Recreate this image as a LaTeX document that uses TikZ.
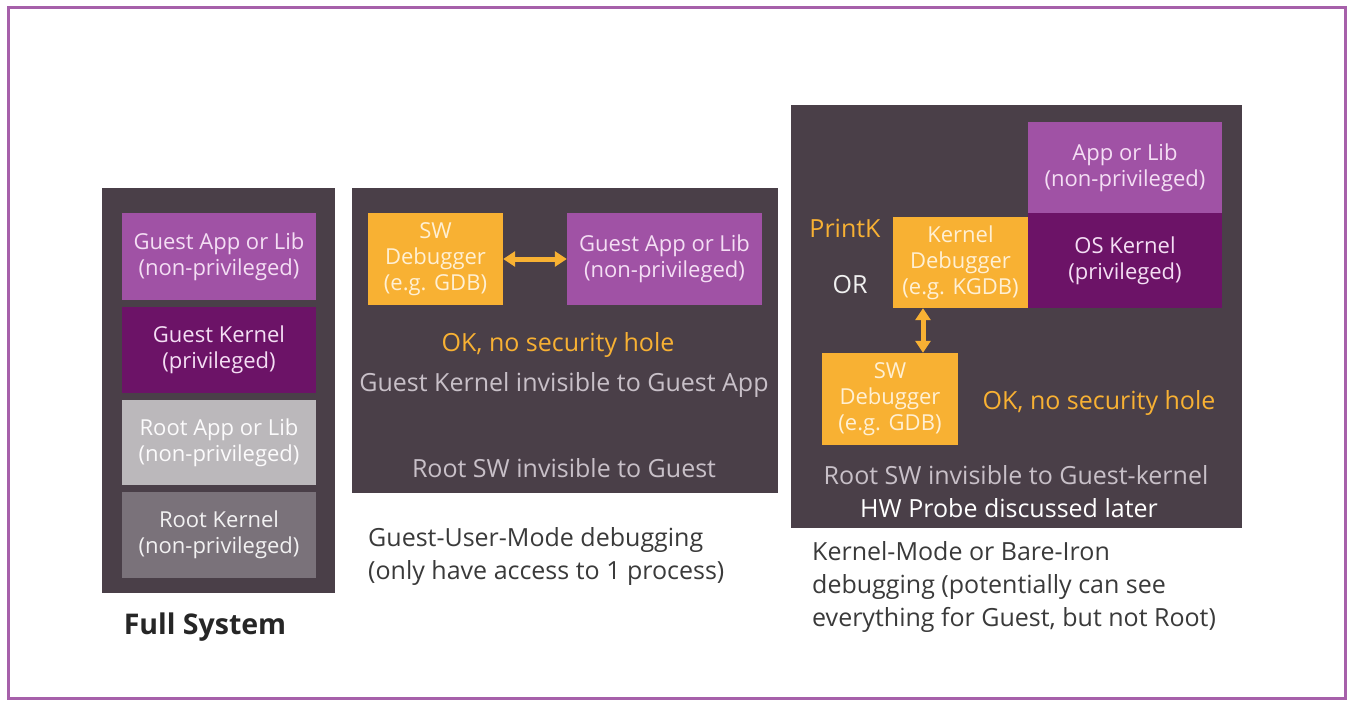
\documentclass[tikz,border=0pt]{standalone}
\usepackage{fontspec}
\setmainfont{Open Sans}
\usetikzlibrary{arrows.meta}
\definecolor{panel}{HTML}{4A3F48}
\definecolor{lilac}{HTML}{A052A5}
\definecolor{plum}{HTML}{6C1367}
\definecolor{lightgrey}{HTML}{BBB8BB}
\definecolor{midgrey}{HTML}{7A727A}
\definecolor{amber}{HTML}{F8B133}
\definecolor{pinkwhite}{HTML}{F4DEF4}
\definecolor{creamtext}{HTML}{FFF0D4}
\definecolor{softgrey}{HTML}{C8C0C8}
\definecolor{captiontext}{HTML}{3A3A3A}
\definecolor{framepurple}{HTML}{A660AA}
\begin{document}
\begin{tikzpicture}[x=1pt,y=-1pt,
  block/.style 2 args={rectangle, inner sep=0pt, minimum width=#1pt, minimum height=#2pt},
  panelbox/.style={fill=panel},
  boxtxt/.style={font=\fontsize{22}{26}\selectfont, align=center},
  bigtxt/.style={font=\fontsize{25}{30}\selectfont, align=center},
  captxt/.style={font=\fontsize{25}{33}\selectfont, align=left, text=captiontext, anchor=north west, inner sep=0pt},
  dbl/.style={draw=amber, line width=5pt,
    {Triangle[length=12pt,width=15pt]}-{Triangle[length=12pt,width=15pt]}}
]
% canvas and outer frame
\fill[white] (0,0) rectangle (1349,702);
\draw[framepurple, line width=3.5pt] (8.5,7.5) rectangle (1345.5,698.5);

% ---- Full system stack ----
\node[block={233}{405}, panelbox] (fs) at (218.5,390.5) {};
\node[block={194}{87}, fill=lilac, boxtxt, text=pinkwhite] (fsA) at (219,256.5) {Guest App or Lib\\(non-privileged)};
\node[block={194}{86}, fill=plum, boxtxt, text=pinkwhite] (fsB) at (219,350) {Guest Kernel\\(privileged)};
\node[block={194}{85}, fill=lightgrey, boxtxt, text=white!95!lightgrey] (fsC) at (219,442.5) {Root App or Lib\\(non-privileged)};
\node[block={194}{86}, fill=midgrey, boxtxt, text=white!90!midgrey] (fsD) at (219,535) {Root Kernel\\(non-privileged)};
\node[font=\fontsize{28.5}{33}\selectfont\bfseries, text=black!85] (fstitle) at (205,627) {Full System};

% ---- Guest-user-mode debugging ----
\node[block={426}{305}, panelbox] (mid) at (565,340.5) {};
\node[block={135}{92}, fill=amber, boxtxt, text=creamtext] (swA) at (435.5,259) {SW\\Debugger\\(e.g. GDB)};
\node[block={195}{92}, fill=lilac, boxtxt, text=pinkwhite] (gapp) at (664.5,259) {Guest App or Lib\\(non-privileged)};
\draw[dbl] (swA) -- (gapp);
\node[bigtxt, text=amber] (okA) at (558,345) {OK, no security hole};
\node[bigtxt, text=softgrey] (invA) at (564,385) {Guest Kernel invisible to Guest App};
\node[bigtxt, text=softgrey] (rootA) at (564,468) {Root SW invisible to Guest};
\node[captxt] (capA) at (368,527) {Guest-User-Mode debugging\\(only have access to 1 process)};

% ---- Kernel-mode / bare-iron debugging ----
\node[block={451}{423}, panelbox] (rt) at (1016.5,316.5) {};
\node[block={194}{91}, fill=lilac, boxtxt, text=pinkwhite] (applib) at (1125,167.5) {App or Lib\\(non-privileged)};
\node[block={194}{95}, fill=plum, boxtxt, text=pinkwhite] (oskern) at (1125,260.5) {OS Kernel\\(privileged)};
\node[block={135}{91}, fill=amber, boxtxt, text=creamtext] (kdbg) at (960.5,262.5) {Kernel\\Debugger\\(e.g. KGDB)};
\node[block={136}{92}, fill=amber, boxtxt, text=creamtext] (swB) at (890,399) {SW\\Debugger\\(e.g. GDB)};
\draw[dbl] ([xshift=-37.5pt]kdbg.south) -- ([xshift=-37.5pt]kdbg.south |- swB.north);
\node[bigtxt, text=amber] (printk) at (845,228) {PrintK};
\node[bigtxt, text=white!92!panel] (orword) at (850,285) {OR};
\node[bigtxt, text=amber] (okB) at (1099,403) {OK, no security hole};
\node[bigtxt, text=softgrey] (rootB) at (1016,475) {Root SW invisible to Guest-kernel};
\node[bigtxt, text=white] (hw) at (1009,508) {HW Probe discussed later};
\node[captxt] (capB) at (812,541) {Kernel-Mode or Bare-Iron\\debugging (potentially can see\\everything for Guest, but not Root)};
\end{tikzpicture}
\end{document}
